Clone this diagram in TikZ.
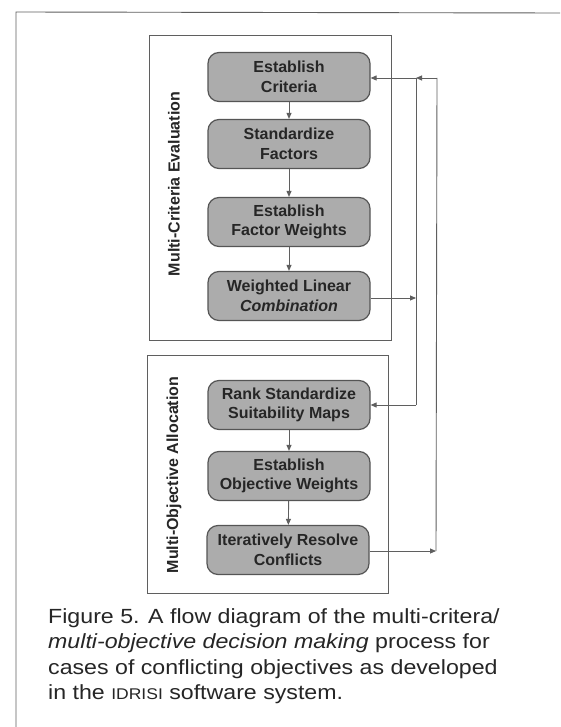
\documentclass[tikz,border=0pt]{standalone}
\usepackage{fontspec}
\setmainfont{Liberation Sans}
\newfontfamily\capfont[FakeStretch=1.13]{Liberation Sans}
\usetikzlibrary{arrows.meta}
\definecolor{linegray}{RGB}{95,95,95}
\definecolor{boxfill}{RGB}{172,172,172}
\definecolor{boxline}{RGB}{85,85,85}
\tikzset{
  stepbox/.style={draw=boxline, fill=boxfill, line width=1.2pt, rounded corners=11pt,
    minimum width=162pt, minimum height=49pt, align=center,
    font=\bfseries\fontsize{16}{19.5}\selectfont, text=black!85, inner sep=2pt},
  frame/.style={draw=linegray, line width=0.9pt},
  conn/.style={draw=linegray, line width=0.9pt},
  arr/.style={conn, -{Triangle[length=6pt,width=5pt]}},
  sidelabel/.style={rotate=90, font=\bfseries\fontsize{16}{19}\selectfont, text=black!85},
  captxt/.style={anchor=base west, font=\capfont\fontsize{20.5}{24}\selectfont, text=black!85, inner sep=0pt}
}
\begin{document}
\begin{tikzpicture}[x=1pt,y=-1pt]
\useasboundingbox (0,0) rectangle (560,727);
\fill[white] (0,0) rectangle (560,727);
% outer frame
\draw[frame] (16,727) -- (16,12) -- (560,13);
% group boxes
\draw[frame] (149,35) rectangle (391,340);
\draw[frame] (147,355) rectangle (388,593);
% side labels
\node[sidelabel] (lab1) at (174,184) {Multi-Criteria Evaluation};
\node[sidelabel] (lab2) at (174,475) {Multi-Objective Allocation};
% steps
\node[stepbox] (crit) at (289,77) {Establish\\Criteria};
\node[stepbox] (std) at (289,144) {Standardize\\Factors};
\node[stepbox] (fw) at (289,222) {Establish\\Factor Weights};
\node[stepbox] (wlc) at (289,296) {Weighted Linear\\\textit{Combination}};
\node[stepbox] (rank) at (289,405) {Rank Standardize\\Suitability Maps};
\node[stepbox] (ow) at (289,476) {Establish\\Objective Weights};
\node[stepbox] (irc) at (288,550) {Iteratively Resolve\\Conflicts};
% vertical arrows
\draw[arr] (crit) -- (std);
\draw[arr] (std) -- (fw);
\draw[arr] (fw) -- (wlc);
\draw[arr] (rank) -- (ow);
\draw[arr] (ow) -- (irc);
% loop connectors
\coordinate (j1) at (416,298);
\coordinate (j1top) at (416,78);
\coordinate (j1bot) at (416,405);
\coordinate (j2) at (436,551);
\coordinate (j2top) at (437,78);
\draw[arr] (wlc.east |- j1) -- (j1);
\draw[conn] (j1top) -- (j1bot);
\draw[arr] (j1bot) -- (rank.east |- j1bot);
\draw[arr] (irc.east |- j2) -- (j2);
\draw[conn] (j2) -- (j2top);
\draw[arr] (j2top) -- (j1top);
\draw[arr] (j1top) -- (crit.east |- j1top);
% caption
\node[captxt] (c1) at (48,623) {Figure 5. A flow diagram of the multi-critera/};
\node[captxt] (c2) at (48,648.5) {\textit{multi-objective decision making} process for};
\node[captxt] (c3) at (48,674) {cases of conflicting objectives as developed};
\node[captxt] (c4) at (48,699.5) {in the {\fontsize{15.5}{24}\selectfont IDRISI} software system.};
\end{tikzpicture}
\end{document}
